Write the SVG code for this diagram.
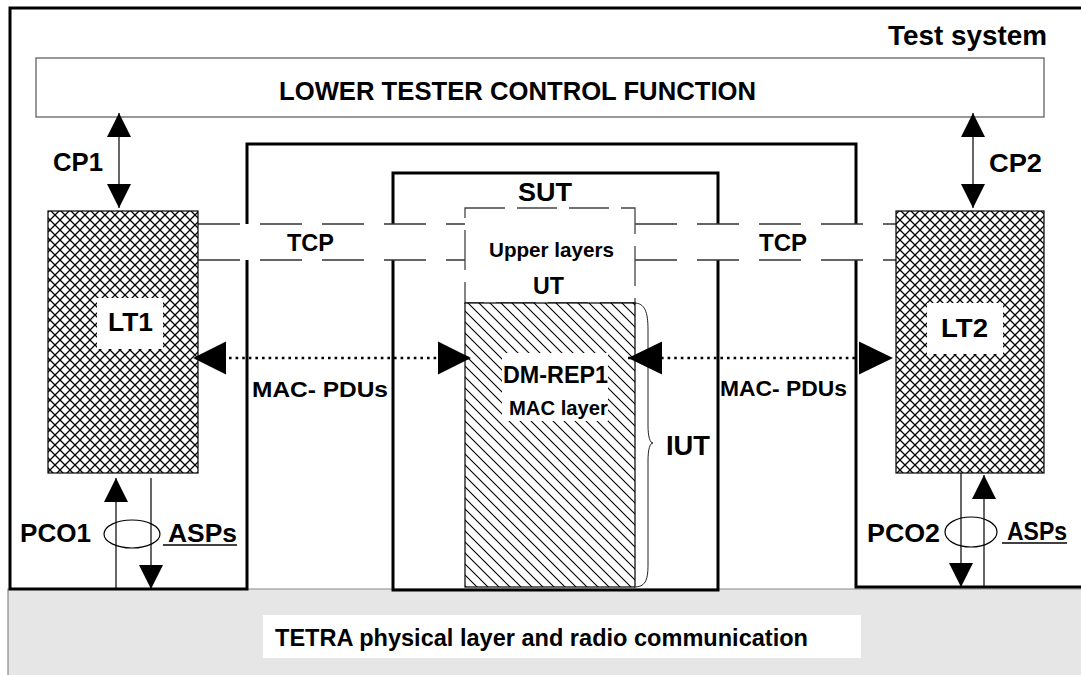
<svg xmlns="http://www.w3.org/2000/svg" width="1081" height="675" viewBox="0 0 1081 675">
<style>
text{font-family:"Liberation Sans",Arial,sans-serif;font-weight:bold;fill:#000}
.frame{fill:none;stroke:#000;stroke-width:3}
.thin{fill:none;stroke:#000;stroke-width:1.2}
.dash{fill:none;stroke:#333;stroke-width:1.3;stroke-dasharray:42 20}
.dot{fill:none;stroke:#000;stroke-width:2.6;stroke-dasharray:2.6 4}
.lbl{fill:#fff;stroke:none}
</style>
<defs>
<pattern id="cross" width="10" height="10" patternUnits="userSpaceOnUse">
<rect width="10" height="10" fill="#fff"/>
<path d="M0,0 L10,10 M10,0 L0,10" stroke="#000" stroke-width="1.3"/>
</pattern>
<pattern id="hatch" width="11" height="11" patternUnits="userSpaceOnUse">
<rect width="11" height="11" fill="#fff"/>
<path d="M-1,-1 L12,12 M-1,10 L1,12 M10,-1 L12,1" stroke="#000" stroke-width="1.1"/>
</pattern>
<marker id="ah" viewBox="0 0 24 24" refX="24" refY="12" markerWidth="24" markerHeight="24" markerUnits="userSpaceOnUse" orient="auto-start-reverse">
<path d="M0,0 L24,12 L0,24 z" fill="#000"/>
</marker>
</defs>

<g id="radio">
<rect x="8" y="589" width="1073" height="86" fill="#e6e6e6"/>
<path d="M8,675 V589 H1081" fill="none" stroke="#888" stroke-width="1.2"/>
<rect class="lbl" x="263" y="615" width="598" height="43"/>
<text x="275" y="646" font-size="23" textLength="533" lengthAdjust="spacingAndGlyphs">TETRA physical layer and radio communication</text>
</g>

<g id="test-system">
<path class="frame" d="M1081,8 H10 V589 H247 V144 H856 V587 H1081"/>
<text x="888" y="45" font-size="27.5" textLength="159" lengthAdjust="spacingAndGlyphs">Test system</text>
</g>

<g id="sut">
<rect class="frame" x="393" y="173" width="325" height="417"/>
<text x="518" y="201" font-size="26.5" textLength="54" lengthAdjust="spacingAndGlyphs">SUT</text>
</g>

<g id="ltcf">
<rect x="36" y="58" width="1008" height="59" fill="#fff" stroke="#777" stroke-width="1.5"/>
<text x="279" y="100" font-size="25.6" textLength="477" lengthAdjust="spacingAndGlyphs">LOWER TESTER CONTROL FUNCTION</text>
</g>

<g id="tcp">
<rect x="198" y="224" width="698" height="36" fill="#fff"/>
<path class="dash" d="M198,224 H465 M198,260 H465 M635,224 H896 M635,260 H896"/>
<text x="287" y="251" font-size="23.5" textLength="47" lengthAdjust="spacingAndGlyphs">TCP</text>
<text x="759" y="251" font-size="23.5" textLength="48" lengthAdjust="spacingAndGlyphs">TCP</text>
</g>

<g id="upper-layers">
<rect x="465" y="208" width="170" height="95" fill="#fff" stroke="#444" stroke-width="1.3" stroke-dasharray="40 12"/>
<text x="489" y="257" font-size="20.6" textLength="125" lengthAdjust="spacingAndGlyphs">Upper layers</text>
<text x="533" y="294" font-size="23" textLength="31" lengthAdjust="spacingAndGlyphs">UT</text>
</g>

<g id="lt1">
<rect x="48" y="211" width="150" height="262" fill="url(#cross)" stroke="#000" stroke-width="1.2"/>
<rect class="lbl" x="97" y="298" width="66" height="51"/>
<text x="108" y="331" font-size="25.5" textLength="45" lengthAdjust="spacingAndGlyphs">LT1</text>
</g>

<g id="lt2">
<rect x="896" y="211" width="148" height="262" fill="url(#cross)" stroke="#000" stroke-width="1.2"/>
<rect class="lbl" x="927" y="303" width="76" height="51"/>
<text x="941" y="337" font-size="26" textLength="47" lengthAdjust="spacingAndGlyphs">LT2</text>
</g>

<g id="dm-rep1">
<rect x="465" y="303" width="170" height="284" fill="url(#hatch)" stroke="#000" stroke-width="1.2"/>
<rect class="lbl" x="502" y="353" width="106" height="68"/>
<text x="503" y="383" font-size="23.4" textLength="105" lengthAdjust="spacingAndGlyphs">DM-REP1</text>
<text x="509" y="415" font-size="20.2" textLength="99" lengthAdjust="spacingAndGlyphs">MAC layer</text>
</g>

<g id="iut">
<path d="M634,303 C645,303 648,312 648,330 L648,425 C648,437 650,443 653,443 C650,443 648,449 648,461 L648,565 C648,581 645,587 634,587" fill="none" stroke="#222" stroke-width="1"/>
<text x="666" y="455" font-size="27" textLength="44" lengthAdjust="spacingAndGlyphs">IUT</text>
</g>

<g id="connectors">
<line class="thin" x1="119" y1="113" x2="119" y2="208" marker-start="url(#ah)" marker-end="url(#ah)" stroke-width="1.3"/>
<line class="thin" x1="973" y1="113" x2="973" y2="208" marker-start="url(#ah)" marker-end="url(#ah)" stroke-width="1.3"/>
<line class="dot" x1="196" y1="358" x2="470" y2="358"/>
<path d="M193,358 L226,341.5 L226,374.5 z M471,358 L438,341.5 L438,374.5 z" fill="#000"/>
<line class="dot" x1="628" y1="358" x2="892" y2="358"/>
<path d="M628,358 L662,341.5 L662,374.5 z M893,358 L859,341.5 L859,374.5 z" fill="#000"/>
<line class="thin" x1="116" y1="589" x2="116" y2="478" marker-end="url(#ah)"/>
<line class="thin" x1="151" y1="478" x2="151" y2="589" marker-end="url(#ah)"/>
<ellipse class="thin" cx="132" cy="534" rx="28" ry="14"/>
<line class="thin" x1="961" y1="473" x2="961" y2="587" marker-end="url(#ah)"/>
<line class="thin" x1="984" y1="587" x2="984" y2="475" marker-end="url(#ah)"/>
<ellipse class="thin" cx="971" cy="532" rx="26" ry="15"/>
</g>

<g id="labels">
<text x="53" y="171" font-size="26" textLength="50" lengthAdjust="spacingAndGlyphs">CP1</text>
<text x="989" y="172" font-size="26.5" textLength="53" lengthAdjust="spacingAndGlyphs">CP2</text>
<text x="252" y="397" font-size="22.9" textLength="136" lengthAdjust="spacingAndGlyphs">MAC- PDUs</text>
<text x="720" y="396" font-size="22.9" textLength="127" lengthAdjust="spacingAndGlyphs">MAC- PDUs</text>
<text x="20" y="542" font-size="25" textLength="71" lengthAdjust="spacingAndGlyphs">PCO1</text>
<text x="168" y="542" font-size="25" textLength="69" lengthAdjust="spacingAndGlyphs">ASPs</text>
<line x1="163" y1="545" x2="237" y2="545" stroke="#000" stroke-width="1.5"/>
<text x="867" y="542" font-size="25" textLength="73" lengthAdjust="spacingAndGlyphs">PCO2</text>
<text x="1007" y="540" font-size="25" textLength="60" lengthAdjust="spacingAndGlyphs">ASPs</text>
<line x1="1002" y1="543" x2="1067" y2="543" stroke="#000" stroke-width="1.5"/>
</g>
</svg>
